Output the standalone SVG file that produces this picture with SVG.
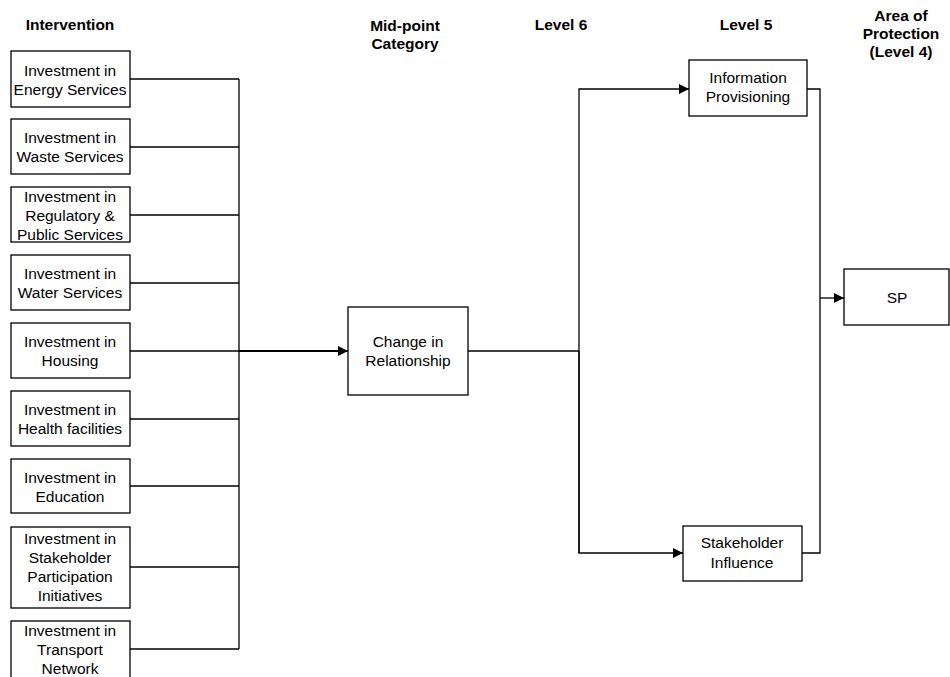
<svg xmlns="http://www.w3.org/2000/svg" width="950" height="677" viewBox="0 0 950 677">
<style>
text{font-family:"Liberation Sans",Arial,sans-serif;font-size:15.5px;fill:#000;text-anchor:middle}
.h{font-weight:bold}
.box{fill:#fff;stroke:#000;stroke-width:1.3}
.c{fill:none;stroke:#000;stroke-width:1.3}
</style>
<defs>
<marker id="arr" viewBox="0 0 10 10" refX="10" refY="5" markerWidth="10" markerHeight="10" markerUnits="userSpaceOnUse" orient="auto">
<path d="M0,0 L10,5 L0,10 z" fill="#000"/>
</marker>
</defs>
<g id="headers">
<text class="h" x="70" y="30">Intervention</text>
<text class="h" x="405" y="31">Mid-point</text>
<text class="h" x="405" y="49">Category</text>
<text class="h" x="561" y="30">Level 6</text>
<text class="h" x="746" y="30">Level 5</text>
<text class="h" x="901" y="21">Area of</text>
<text class="h" x="901" y="39">Protection</text>
<text class="h" x="901" y="57">(Level 4)</text>
</g>
<g id="connectors">
<polyline class="c" points="130,79 239,79"/>
<polyline class="c" points="130,147 239,147"/>
<polyline class="c" points="130,215 239,215"/>
<polyline class="c" points="130,283 239,283"/>
<polyline class="c" points="130,351 239,351"/>
<polyline class="c" points="130,419 239,419"/>
<polyline class="c" points="130,486 239,486"/>
<polyline class="c" points="130,567 239,567"/>
<polyline class="c" points="130,649 239,649"/>
<polyline class="c" points="239,79 239,649"/>
<polyline class="c" points="239,351 348,351" marker-end="url(#arr)" style="stroke-width:2"/>
<polyline class="c" points="468,351 579,351"/>
<polyline class="c" points="579,553 579,89 689,89" marker-end="url(#arr)"/>
<polyline class="c" points="579,351 579,553 683,553" marker-end="url(#arr)"/>
<polyline class="c" points="807,89 820,89 820,553 802,553"/>
<polyline class="c" points="820,298 844,298" marker-end="url(#arr)"/>
</g>
<g id="n1"><rect class="box" x="11" y="51" width="119" height="56"/><text x="70" y="76">Investment in</text><text x="70" y="95">Energy Services</text></g>
<g id="n2"><rect class="box" x="11" y="119" width="119" height="55"/><text x="70" y="143">Investment in</text><text x="70" y="162">Waste Services</text></g>
<g id="n3"><rect class="box" x="11" y="187" width="119" height="55"/><text x="70" y="202">Investment in</text><text x="70" y="221">Regulatory &amp;</text><text x="70" y="240">Public Services</text></g>
<g id="n4"><rect class="box" x="11" y="255" width="119" height="55"/><text x="70" y="279">Investment in</text><text x="70" y="298">Water Services</text></g>
<g id="n5"><rect class="box" x="11" y="323" width="119" height="55"/><text x="70" y="347">Investment in</text><text x="70" y="366">Housing</text></g>
<g id="n6"><rect class="box" x="11" y="391" width="119" height="55"/><text x="70" y="415">Investment in</text><text x="70" y="434">Health facilities</text></g>
<g id="n7"><rect class="box" x="11" y="459" width="119" height="54"/><text x="70" y="483">Investment in</text><text x="70" y="502">Education</text></g>
<g id="n8"><rect class="box" x="11" y="527" width="119" height="81"/><text x="70" y="544">Investment in</text><text x="70" y="563">Stakeholder</text><text x="70" y="582">Participation</text><text x="70" y="601">Initiatives</text></g>
<g id="n9"><rect class="box" x="11" y="621" width="119" height="58"/><text x="70" y="636">Investment in</text><text x="70" y="655">Transport</text><text x="70" y="674">Network</text></g>
<g id="change"><rect class="box" x="348" y="307" width="120" height="88"/><text x="408" y="347">Change in</text><text x="408" y="366">Relationship</text></g>
<g id="info"><rect class="box" x="689" y="60" width="118" height="56"/><text x="748" y="83">Information</text><text x="748" y="102">Provisioning</text></g>
<g id="stake"><rect class="box" x="683" y="526" width="119" height="55"/><text x="742" y="548">Stakeholder</text><text x="742" y="568">Influence</text></g>
<g id="sp"><rect class="box" x="844" y="269" width="105" height="56"/><text x="897" y="303">SP</text></g>
</svg>
